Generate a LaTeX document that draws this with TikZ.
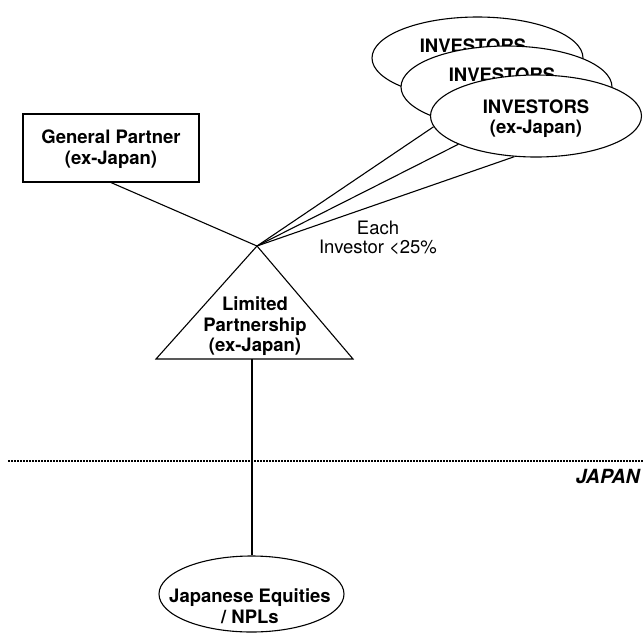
\documentclass[tikz,border=0pt]{standalone}
\usepackage{fontspec}
\setmainfont{TeX Gyre Heros}
\usetikzlibrary{shapes.geometric}
\begin{document}
\begin{tikzpicture}[x=1pt,y=-1pt,
  every node/.style={font=\fontsize{18.5}{20.5}\selectfont},
  lbl/.style={font=\fontsize{18.5}{20.5}\selectfont\bfseries, align=center, inner sep=0pt},
  plain/.style={font=\fontsize{18.5}{19.5}\selectfont, align=center, inner sep=0pt},
  conn/.style={line width=1.1pt},
  gpbox/.style={draw, line width=1.1pt, minimum width=176pt, minimum height=68pt, inner sep=0pt},
  invell/.style={ellipse, draw, fill=white, line width=1.1pt, minimum width=211pt, minimum height=82pt, inner sep=0pt},
  eqell/.style={ellipse, draw, line width=1.1pt, minimum width=185pt, minimum height=76pt, inner sep=0pt},
  border/.style={line width=1.1pt, dash pattern=on 2pt off 1pt}]
\useasboundingbox (0,0) rectangle (643,633);

% General partner
\node[gpbox] (gp) at (111,148) {};
\node[lbl] (gpt) at (111,149) {General Partner\\(ex-Japan)};

% Limited partnership triangle
\coordinate (apex) at (257,246);
\coordinate (bl) at (156,359);
\coordinate (br) at (353,359);
\coordinate (lpb) at (252,359);
\draw[conn, line join=miter] (apex) -- (bl) -- (br) -- cycle;
\node[lbl] (lpt) at (255,326.5) {Limited\\Partnership\\(ex-Japan)};

% Investors
\node[invell] (inv1) at (477.5,58) {};
\node[lbl, anchor=base] (inv1t) at (473,52.5) {INVESTORS};
\node[invell] (inv2) at (506.5,87) {};
\node[lbl, anchor=base] (inv2t) at (502,81.5) {INVESTORS};
\node[invell] (inv3) at (536,116) {};
\node[lbl] (inv3t) at (536,118.5) {INVESTORS\\(ex-Japan)};

% connectors
\draw[conn] (gp.south) -- (apex);
\draw[conn] (apex) -- (inv3.186.6);
\draw[conn] (apex) -- (inv3.200.9);
\draw[conn] (apex) -- (inv3.242.9);

\node[plain] (each) at (378,238) {Each\\Investor <25\%};

% Japanese equities
\node[eqell] (eq) at (251.5,594) {};
\node[lbl] (eqt) at (250,606) {Japanese Equities\\/ NPLs};
\draw[conn] (lpb) -- (lpb |- eq.north);

% border
\coordinate (bdl) at (8,461);
\coordinate (bdr) at (643,461);
\draw[border] (bdl) -- (bdr);
\node[lbl, font=\fontsize{19.5}{21}\selectfont\bfseries\itshape, anchor=base east] (japan) at (640,483) {JAPAN};
\end{tikzpicture}
\end{document}
